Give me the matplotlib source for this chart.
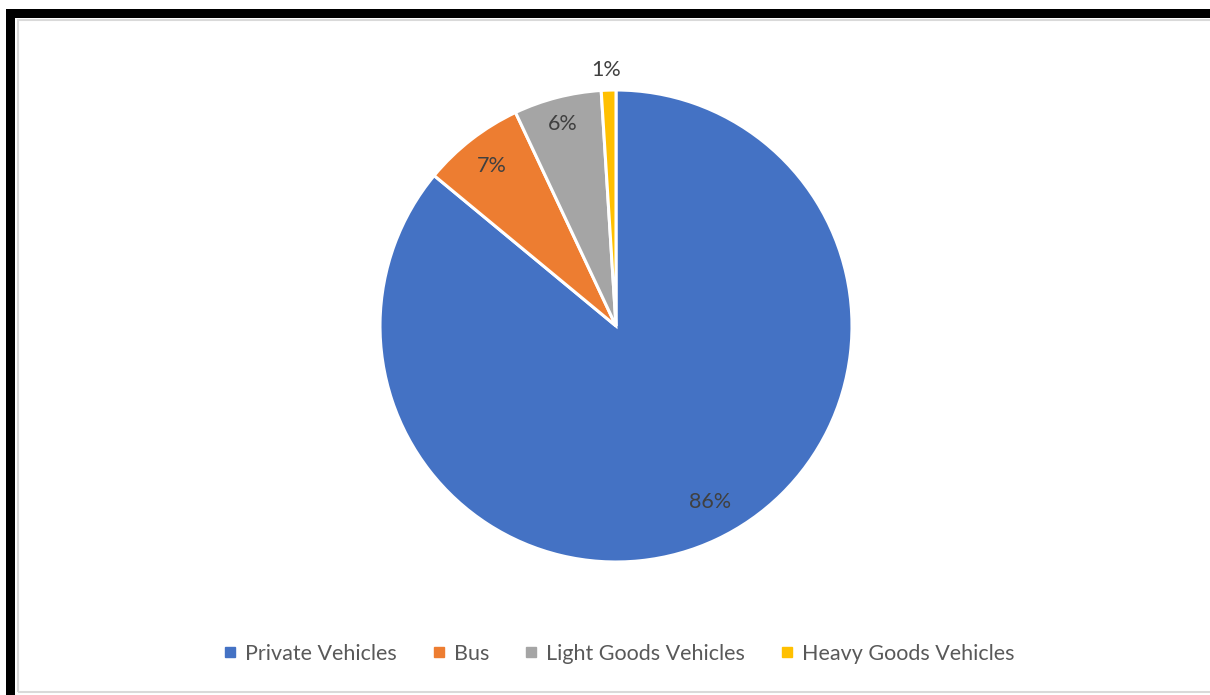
import matplotlib
matplotlib.use("Agg")
import matplotlib.pyplot as plt
from matplotlib.lines import Line2D
from matplotlib.patches import Rectangle

# vehicle mix shares (%)
categories = ["Private Vehicles", "Bus", "Light Goods Vehicles", "Heavy Goods Vehicles"]
shares = [86, 7, 6, 1]
colors = ["#4472C4", "#ED7D31", "#A5A5A5", "#FFC000"]

plt.rcParams['font.family'] = ['Lato', 'DejaVu Sans']

W, H = 1210, 695
fig = plt.figure(figsize=(W / 100, H / 100), dpi=100)
fig.patch.set_facecolor("white")

# frame: thick black edge on left/top, thin grey chart border inside
fig.patches.append(Rectangle((6 / W, 0), 9 / W, (H - 9) / H, transform=fig.transFigure,
                             facecolor="black", edgecolor="none"))
fig.patches.append(Rectangle((6 / W, (H - 18) / H), (W - 6) / W, 9 / H, transform=fig.transFigure,
                             facecolor="black", edgecolor="none"))
fig.patches.append(Rectangle((18 / W, 3 / H), (W + 10 - 18) / W, (H - 23) / H, transform=fig.transFigure,
                             facecolor="none", edgecolor="#d9d9d9", linewidth=1.5))

# pie area: centre (616, 326) px, radius 236 px
cx, cy, r = 616, 326, 236
ax = fig.add_axes([(cx - r) / W, (H - cy - r) / H, 2 * r / W, 2 * r / H])
wedges, texts, autotexts = ax.pie(
    shares, colors=colors, startangle=90, counterclock=False,
    autopct=lambda p: f"{p:.0f}%", pctdistance=0.86,
    wedgeprops=dict(edgecolor="white", linewidth=2.2),
    textprops=dict(color="#404040", fontsize=15.5),
)
# nudge labels to where they sit on the chart
autotexts[0].set_position((0.40, -0.745))
autotexts[2].set_position((-0.225, 0.855))
autotexts[3].set_position((-0.04, 1.085))
for t in autotexts:
    t.set_clip_on(False)
ax.set_xlim(-1, 1)
ax.set_ylim(-1, 1)
ax.set_aspect("equal")
ax.axis("off")

handles = [Line2D([], [], marker="s", linestyle="none", markersize=7,
                  markerfacecolor=c, markeredgecolor=c) for c in colors]
leg = fig.legend(handles, categories, loc="center", bbox_to_anchor=(0.512, (H - 654) / H),
                 ncol=4, frameon=False, fontsize=15.5, handlelength=0.5, handletextpad=0.45,
                 columnspacing=1.7)
for t in leg.get_texts():
    t.set_color("#595959")

fig.savefig("out.png", dpi=100)
